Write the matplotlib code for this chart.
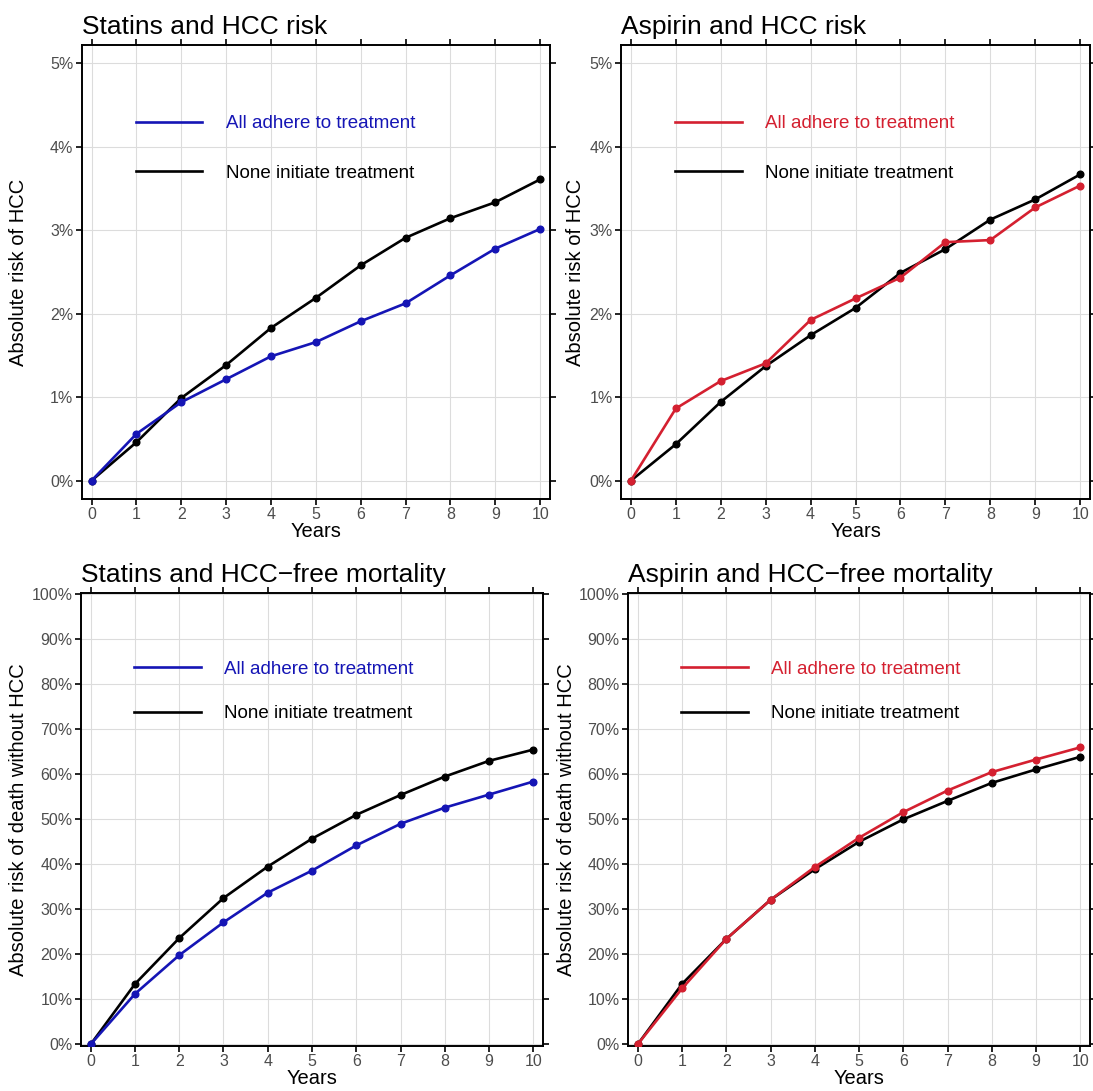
import numpy as np
import matplotlib
matplotlib.use("Agg")
import matplotlib.pyplot as plt
from matplotlib.ticker import FuncFormatter

plt.rcParams['font.family'] = ['Liberation Sans', 'DejaVu Sans']

years = list(range(11))

# HCC risk (%)
statin_hcc_adhere = [0, 0.56, 0.94, 1.215, 1.49, 1.66, 1.91, 2.125, 2.46, 2.78, 3.016]
statin_hcc_none = [0, 0.46, 0.99, 1.385, 1.83, 2.19, 2.58, 2.91, 3.145, 3.336, 3.61]
aspirin_hcc_adhere = [0, 0.865, 1.194, 1.406, 1.926, 2.184, 2.433, 2.858, 2.883, 3.274, 3.536]
aspirin_hcc_none = [0, 0.437, 0.944, 1.373, 1.743, 2.07, 2.49, 2.775, 3.128, 3.37, 3.67]

# HCC-free mortality (%)
statin_mort_adhere = [0, 11.2, 19.8, 27.1, 33.7, 38.6, 44.2, 49.0, 52.6, 55.5, 58.4]
statin_mort_none = [0, 13.4, 23.6, 32.5, 39.5, 45.7, 51.0, 55.4, 59.5, 63.0, 65.5]
aspirin_mort_adhere = [0, 12.4, 23.4, 32.1, 39.4, 45.9, 51.6, 56.4, 60.5, 63.3, 66.0]
aspirin_mort_none = [0, 13.4, 23.4, 32.1, 38.9, 45.0, 50.0, 54.1, 58.1, 61.1, 63.9]

blue = "#1515b5"
red = "#d42030"

# title, adhere, none, colour, ylabel, axes box, ylim, yticks, ylabel x, legend top, legend spacing
panels = [
    ("Statins and HCC risk", statin_hcc_adhere, statin_hcc_none, blue,
     "Absolute risk of HCC", [0.0747, 0.5426, 0.4285, 0.4161], (-0.22, 5.22), np.arange(0, 6, 1),
     -0.114, 0.846, 1.73),
    ("Aspirin and HCC risk", aspirin_hcc_adhere, aspirin_hcc_none, red,
     "Absolute risk of HCC", [0.5682, 0.5426, 0.4291, 0.4161], (-0.22, 5.22), np.arange(0, 6, 1),
     -0.077, 0.846, 1.73),
    ("Statins and HCC\u2212free mortality", statin_mort_adhere, statin_mort_none, blue,
     "Absolute risk of death without HCC", [0.0741, 0.0412, 0.4227, 0.4152], (-0.4, 100.3), np.arange(0, 101, 10),
     -0.115, 0.851, 1.46),
    ("Aspirin and HCC\u2212free mortality", aspirin_mort_adhere, aspirin_mort_none, red,
     "Absolute risk of death without HCC", [0.5746, 0.0412, 0.4227, 0.4152], (-0.4, 100.3), np.arange(0, 101, 10),
     -0.113, 0.851, 1.46),
]

fig = plt.figure(figsize=(10.93, 10.91), dpi=100)

for title, adhere, none, col, ylab, pos, ylim, yticks, ylx, legtop, legsp in panels:
    ax = fig.add_axes(pos)
    ax.plot(years, none, color="black", lw=1.9, marker="o", ms=4.8, label="None initiate treatment", zorder=3)
    ax.plot(years, adhere, color=col, lw=1.9, marker="o", ms=4.8, label="All adhere to treatment", zorder=4)
    ax.set_xlim(-0.22, 10.22)
    ax.set_ylim(*ylim)
    ax.set_xticks(years)
    ax.set_yticks(yticks)
    ax.yaxis.set_major_formatter(FuncFormatter(lambda v, p: "%d%%" % round(v)))
    ax.grid(True, color="#dcdcdc", lw=0.8)
    ax.set_axisbelow(True)
    ax.tick_params(direction="out", length=4, width=1.2, top=True, right=True,
                   labelsize=11.5, labelcolor="#4d4d4d", color="black", pad=2)
    for s in ax.spines.values():
        s.set_linewidth(1.4)
    ax.set_title(title, loc="left", fontsize=19, pad=8)
    ax.set_xlabel("Years", fontsize=14.5, labelpad=0)
    ax.set_ylabel(ylab, fontsize=14.5)
    ax.yaxis.set_label_coords(ylx, 0.5)
    h, l = ax.get_legend_handles_labels()
    ax.legend(h[::-1], l[::-1], loc="upper left", bbox_to_anchor=(0.115, legtop), frameon=False,
              fontsize=13.5, handlelength=3.57, handletextpad=1.23, labelspacing=legsp,
              borderpad=0, borderaxespad=0, labelcolor="linecolor", markerscale=0)

fig.savefig("out.png", dpi=100)
